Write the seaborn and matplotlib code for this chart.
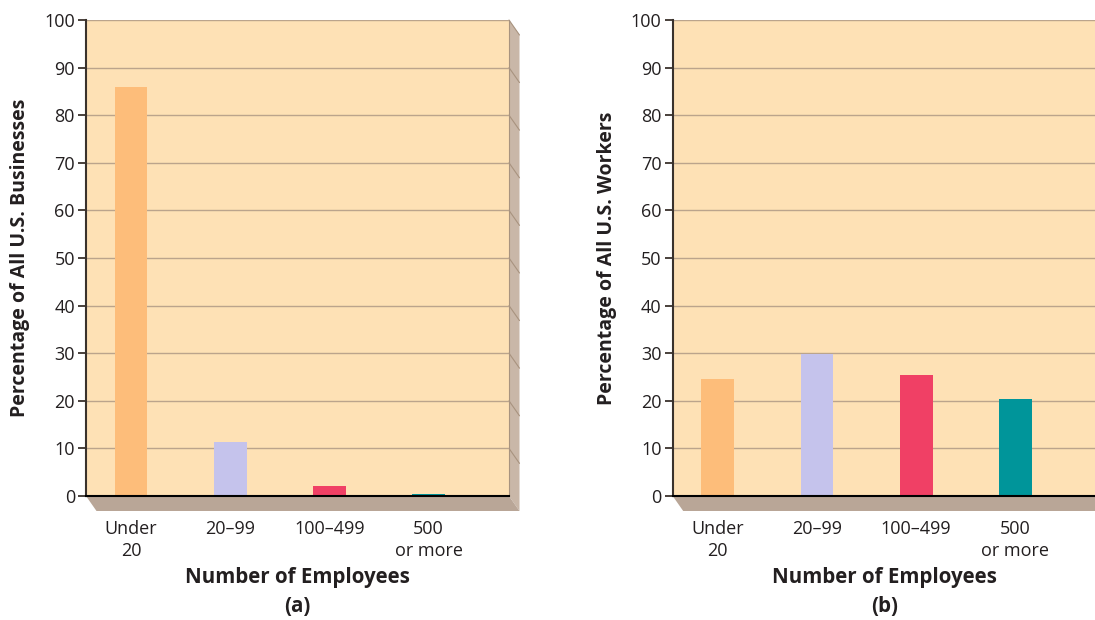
import matplotlib
matplotlib.use("Agg")
import matplotlib.pyplot as plt
import seaborn as sns
import pandas as pd
from matplotlib.patches import Polygon
from matplotlib.lines import Line2D

# ---- data ----
categories = ["Under\n20", "20–99", "100–499", "500\nor more"]
pct_businesses = [86.0, 11.4, 2.1, 0.4]
pct_workers = [24.6, 29.8, 25.4, 20.4]
bar_colors = ["#FDBD7A", "#C5C3EC", "#F04065", "#00959A"]
y_ticks = list(range(0, 101, 10))
panel_titles = ["(a)", "(b)"]
y_labels = ["Percentage of All U.S. Businesses", "Percentage of All U.S. Workers"]
x_label = "Number of Employees"

sns.set_theme(style="white")
plt.rcParams["font.family"] = ["Open Sans", "DejaVu Sans"]

W, H = 1095, 620
fig = plt.figure(figsize=(W / 100, H / 100), dpi=100)

BG = "#FEE1B5"
WALL = "#C9B7A8"
FLOOR = "#B9A697"
GRID = "#BBA48C"
TXT = "#231F20"

ax_w = 423 / W
ax_h = 476 / H
ax_bottom = (H - 496) / H
lefts = [86 / W, 672.7 / W]

# 3D depth offsets in pixels
dx_px, dy_px = 10.5, 15

for i, (vals, left) in enumerate(zip([pct_businesses, pct_workers], lefts)):
    ax = fig.add_axes([left, ax_bottom, ax_w, ax_h])
    df = pd.DataFrame({"cat": categories, "val": vals})
    sns.barplot(data=df, x="cat", y="val", hue="cat", palette=bar_colors,
                width=0.33, legend=False, ax=ax, saturation=1, zorder=3,
                linewidth=0, edgecolor="none")
    ax.set_facecolor(BG)
    ax.set_xlim(-0.455, 3.81)
    ax.set_ylim(0, 100)
    ax.set_yticks(y_ticks)
    ax.set_yticklabels([str(t) for t in y_ticks], color=TXT, fontsize=13)
    ax.yaxis.grid(True, color=GRID, linewidth=1.0, zorder=1)
    ax.set_axisbelow(True)
    ax.tick_params(axis="y", length=6, width=1.3, color="#3A322C", pad=2, left=True)
    ax.tick_params(axis="x", length=0, pad=17, labelsize=13, labelcolor=TXT)
    for t in ax.get_xticklabels():
        t.set_linespacing(1.3)
    for s in ["top", "right"]:
        ax.spines[s].set_visible(False)
    ax.spines["left"].set_color("#3A322C")
    ax.spines["left"].set_linewidth(1.5)
    ax.spines["bottom"].set_color("black")
    ax.spines["bottom"].set_linewidth(1.5)
    ax.spines["bottom"].set_zorder(5)

    ax.set_xlabel("")
    ax.set_ylabel(y_labels[i], fontsize=14, fontweight="bold", color=TXT, labelpad=10)

    # 3D wall and floor
    dx = dx_px / 423
    dy = dy_px / 476
    wall = Polygon([(1, 1), (1 + dx, 1 - dy), (1 + dx, -dy), (1, 0)], closed=True,
                   transform=ax.transAxes, facecolor=WALL, edgecolor="none",
                   clip_on=False, zorder=0)
    floor = Polygon([(0, 0), (1, 0), (1 + dx, -dy), (dx, -dy)], closed=True,
                    transform=ax.transAxes, facecolor=FLOOR, edgecolor="none",
                    clip_on=False, zorder=0)
    ax.add_patch(wall)
    ax.add_patch(floor)
    for t in y_ticks[1:]:
        yy = t / 100
        ax.add_line(Line2D([1, 1 + dx], [yy, yy - dy], transform=ax.transAxes,
                           color="#A8937F", linewidth=0.8, clip_on=False, zorder=0))
    ax.add_line(Line2D([1, 1], [0, 1], transform=ax.transAxes,
                       color="#A8937F", linewidth=0.8, clip_on=False, zorder=0))

    cx = left + ax_w / 2
    fig.text(cx, (H - 578) / H, x_label, ha="center", va="center",
             fontsize=14.8, fontweight="bold", color=TXT)
    fig.text(cx, (H - 607) / H, panel_titles[i], ha="center", va="center",
             fontsize=14.8, fontweight="bold", color=TXT)

fig.savefig("out.png", dpi=100, facecolor="white")
